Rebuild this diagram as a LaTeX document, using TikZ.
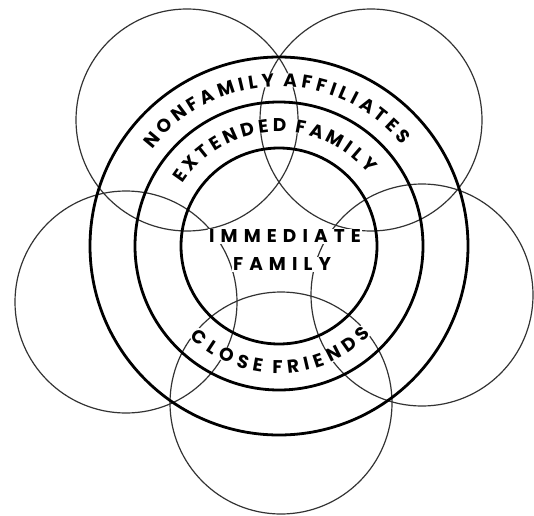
\documentclass[tikz,border=0pt]{standalone}
\usepackage{fontspec}
\setmainfont{Poppins}
\usetikzlibrary{calc}

\tikzset{
  thin ring/.style={draw=black!80, line width=1.2pt},
  thick ring/.style={draw=black, line width=2.8pt},
  letter/.style={fill=white, inner sep=0.3pt, text height=13pt, text depth=0pt, anchor=center},
  flat word/.style={fill=white, inner sep=1pt}
}

% #1 name, #2 radius, #3 middle angle, #4 direction (-1 top, 1 bottom), #5 tracking, #6 letters
\newcommand{\ringtext}[6]{%
  \gdef\ringsum{0}%
  \foreach \ch in {#6}{%
    \pgfmathsetmacro\chw{width("\ch")}%
    \pgfmathsetmacro\ringnew{\ringsum+\chw+#5}%
    \global\let\ringsum\ringnew}%
  \pgfmathsetmacro\ringlen{\ringsum-#5}%
  \gdef\ringpos{0}%
  \foreach \ch [count=\i] in {#6}{%
    \pgfmathsetmacro\chw{width("\ch")}%
    \pgfmathsetmacro\ang{#3+#4*(\ringpos+\chw/2-\ringlen/2)/#2*180/pi}%
    \ifx\ch\empty\else
      \node[letter, rotate=\ang+#4*90] (#1-\i) at ($(c)+(\ang:#2pt)$) {\ch};
    \fi
    \pgfmathsetmacro\ringnew{\ringpos+\chw+#5}%
    \global\let\ringpos\ringnew}%
}

\begin{document}
\begin{tikzpicture}[x=1pt, y=1pt]
  \fontsize{18.5}{21}\selectfont\bfseries
  \useasboundingbox (0,0) rectangle (534,515);

  \coordinate (c) at (279,269);
  % friend circles
  \coordinate (tl) at (187,395);
  \coordinate (tr) at (371,395);
  \coordinate (rt) at (422,220);
  \coordinate (bt) at (281,112);
  \coordinate (lf) at (126,213);
  \foreach \p in {tl,tr,rt,bt,lf}
    \draw[thin ring] (\p) circle (111pt);

  % family rings
  \draw[thick ring] (c) circle (189pt);
  \draw[thick ring] (c) circle (144pt);
  \draw[thick ring] (c) circle (98pt);

  % labels
  \ringtext{nf}{166}{91}{-1}{4.7}{N,O,N,F,A,M,I,L,Y,,A,F,F,I,L,I,A,T,E,S}
  \ringtext{ex}{121}{93}{-1}{4.7}{E,X,T,E,N,D,E,D,,F,A,M,I,L,Y}
  \ringtext{cf}{121}{271}{1}{4.7}{C,L,O,S,E,,F,R,I,E,N,D,S}
  \node[flat word] (imm) at (285,278.5) {\addfontfeature{LetterSpace=33}IMMEDIATE};
  \node[flat word] (fam) at (282,250.5) {\addfontfeature{LetterSpace=33}FAMILY};
\end{tikzpicture}
\end{document}
